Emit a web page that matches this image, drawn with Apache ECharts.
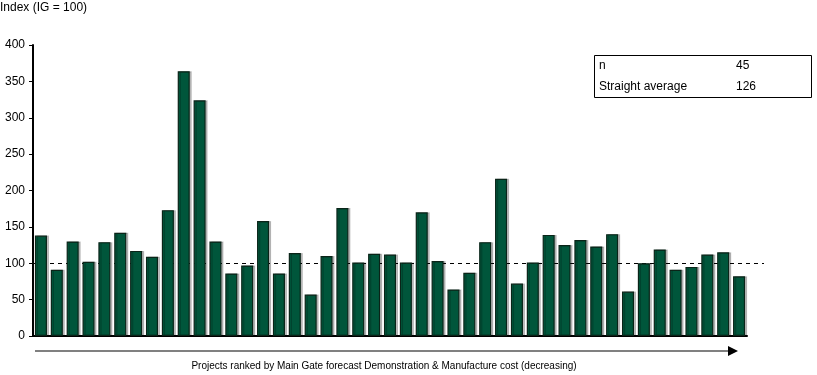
<!DOCTYPE html>
<html>
<head>
<meta charset="utf-8">
<script src="https://cdn.jsdelivr.net/npm/echarts@6/dist/echarts.min.js"></script>
<style>
html,body{margin:0;padding:0;background:#fff;}
#chart{width:817px;height:375px;}
</style>
</head>
<body>
<div id="chart"></div>
<script>
var categories = [];
for (var i = 1; i <= 45; i++) categories.push('P' + i);
var values = [138, 91, 130, 102, 129, 142, 117, 109, 173, 364,
              324, 130, 86, 97, 158, 86, 114, 57, 110, 176,
              101, 113, 112, 101, 170, 103, 64, 87, 129, 216,
              72, 101, 139, 125, 132, 123, 140, 61, 100, 119,
              91, 95, 112, 115, 82];
var yTicks = [0, 50, 100, 150, 200, 250, 300, 350, 400];
var referenceValue = 100;
var statLabels = ['n', 'Straight average'];
var statValues = ['45', '126'];
var yTitle = 'Index (IG = 100)';
var xTitle = 'Projects ranked by Main Gate forecast Demonstration & Manufacture cost (decreasing)';

var FONT = '"Liberation Sans", Arial, sans-serif';
var chart = echarts.init(document.getElementById('chart'));
chart.setOption({
  animation: false,
  backgroundColor: '#ffffff',
  grid: {left: 33, right: 70, top: 45, bottom: 39, containLabel: false},
  xAxis: {
    type: 'category',
    data: categories,
    axisLine: {lineStyle: {color: '#000', width: 2}},
    axisTick: {show: false},
    axisLabel: {show: false},
    splitLine: {show: false}
  },
  yAxis: {
    type: 'value',
    min: yTicks[0],
    max: yTicks[yTicks.length - 1],
    interval: 50,
    axisLine: {show: true, lineStyle: {color: '#000', width: 2}},
    axisTick: {show: true, length: 4, lineStyle: {color: '#000', width: 1}},
    axisLabel: {color: '#000', fontFamily: FONT, fontSize: 12, margin: 8},
    splitLine: {show: false}
  },
  series: [{
    type: 'bar',
    data: values,
    barCategoryGap: '24%',
    z: 5,
    itemStyle: {
      color: '#00563b',
      borderColor: '#0a2418',
      borderWidth: 1.2,
      shadowColor: 'rgba(0,0,0,0.22)',
      shadowOffsetX: 2,
      shadowOffsetY: 0,
      shadowBlur: 0
    },
    silent: true
  }]
});
var yRef = Math.round(chart.convertToPixel({yAxisIndex: 0}, referenceValue)) + 0.5;
chart.setOption({
  graphic: {
    z: 1,
    elements: [
      {type: 'text', left: 0, top: 2, style: {text: yTitle, fill: '#000', font: '12px ' + FONT}},
      {type: 'rect', shape: {x: 594.5, y: 55.5, width: 217, height: 42}, style: {fill: '#fff', stroke: '#000', lineWidth: 1}},
      {type: 'text', x: 599, y: 60, style: {text: statLabels[0], fill: '#000', font: '12px ' + FONT}},
      {type: 'text', x: 736, y: 60, style: {text: statValues[0], fill: '#000', font: '12px ' + FONT}},
      {type: 'text', x: 599, y: 81, style: {text: statLabels[1], fill: '#000', font: '12px ' + FONT}},
      {type: 'text', x: 736, y: 81, style: {text: statValues[1], fill: '#000', font: '12px ' + FONT}},
      {type: 'line', shape: {x1: 35, y1: 351, x2: 730, y2: 351}, style: {stroke: '#808080', lineWidth: 2}},
      {type: 'polygon', shape: {points: [[728, 346], [738, 351], [728, 356]]}, style: {fill: '#000'}},
      {type: 'text', x: 384, y: 361, style: {text: xTitle, fill: '#000', font: '10px ' + FONT, textAlign: 'center'}},
      {type: 'line', shape: {x1: 34, y1: yRef, x2: 764, y2: yRef},
       style: {stroke: '#000', lineWidth: 1, lineDash: [4, 4]}}
    ]
  }
});
</script>
</body>
</html>
